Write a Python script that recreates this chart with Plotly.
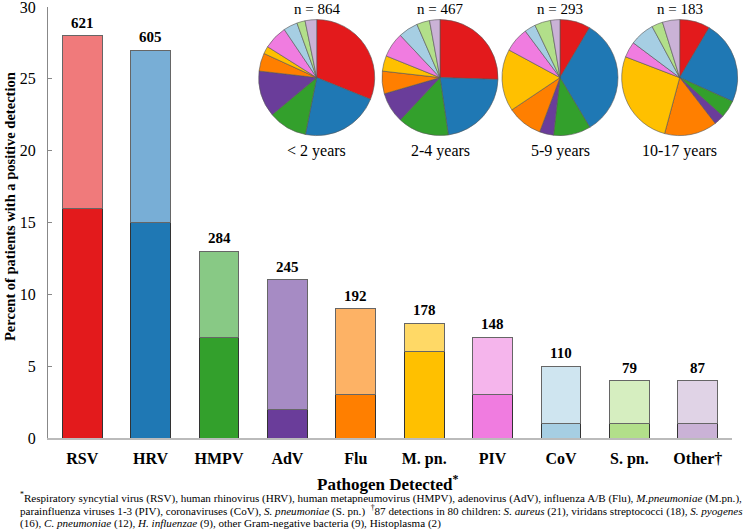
import plotly.graph_objects as go

categories = ["RSV", "HRV", "HMPV", "AdV", "Flu", "M. pn.", "PIV", "CoV", "S. pn.", "Other†"]
total_pct = [28, 27, 13, 11, 9, 8, 7, 5, 4, 4]
under2_pct = [16, 15, 7, 2, 3, 6, 3, 1, 1, 1]
counts = [621, 605, 284, 245, 192, 178, 148, 110, 79, 87]

dark_colors = ["#E31A1C", "#1F78B4", "#33A02C", "#6A3D9A", "#FF7F00",
               "#FFC000", "#F07CE0", "#A6CEE3", "#B2DF8A", "#CAB2D6"]
light_colors = ["#F07A7B", "#78AED6", "#88C985", "#A68BC4", "#FDB265",
                "#FFD966", "#F5B5EC", "#CFE5F0", "#D6EEC0", "#E0D3E6"]

age_groups = ["< 2 years", "2-4 years", "5-9 years", "10-17 years"]
age_n = [864, 467, 293, 183]
pie_under2 = [31.0, 21.9, 10.8, 12.8, 5.0, 2.1, 6.6, 3.9, 2.3, 3.2]
pie_2to4 = [25.5, 22.2, 14.3, 8.5, 6.3, 4.3, 6.9, 5.5, 3.6, 2.9]
pie_5to9 = [8.5, 32.9, 10.4, 3.9, 9.9, 17.3, 6.9, 3.1, 4.5, 2.6]
pie_10to17 = [8.5, 23.3, 4.9, 2.9, 14.7, 26.7, 4.4, 6.9, 3.1, 4.8]
pie_values = [pie_under2, pie_2to4, pie_5to9, pie_10to17]

W, H = 750, 532
FONT = "Liberation Serif, Times New Roman, serif"


def sx(x):
    return min(1.0, max(0.0, x / W))


def sy(y):
    return min(1.0, max(0.0, 1 - y / H))


fig = go.Figure()

upper = [t - d for t, d in zip(total_pct, under2_pct)]
fig.add_trace(go.Bar(x=categories, y=under2_pct, marker=dict(color=dark_colors, line=dict(color="#333333", width=1)),
                     width=0.58, showlegend=False, hoverinfo="x+y"))
fig.add_trace(go.Bar(x=categories, y=upper, marker=dict(color=light_colors, line=dict(color="#666666", width=1)),
                     width=0.58, showlegend=False, hoverinfo="x+y"))

# count labels above bars
for c, t, n in zip(categories, total_pct, counts):
    fig.add_annotation(x=c, y=t, text=f"<b>{n}</b>", showarrow=False, yanchor="bottom", yshift=3,
                       font=dict(family=FONT, size=15, color="black"))

# pies
centers_x = [316.7, 440, 560, 679.7]
cy = 77.6
r = 58
for i, (vals, cx) in enumerate(zip(pie_values, centers_x)):
    fig.add_trace(go.Pie(values=vals, labels=categories, sort=False, direction="clockwise",
                         marker=dict(colors=dark_colors, line=dict(color="#555555", width=0.6)),
                         textinfo="none", showlegend=False, hoverinfo="label+percent",
                         domain=dict(x=[sx(cx - r), sx(cx + r)], y=[sy(cy + r), sy(cy - r)])))
    fig.add_annotation(x=sx(cx), y=sy(9), xref="paper", yref="paper", text=f"n = {age_n[i]}",
                       xanchor="center", yanchor="middle",
                       showarrow=False, font=dict(family=FONT, size=15, color="black"))
    fig.add_annotation(x=sx(cx), y=sy(151), xref="paper", yref="paper", text=age_groups[i],
                       xanchor="center", yanchor="middle",
                       showarrow=False, font=dict(family=FONT, size=16, color="black"))

# y title
fig.add_annotation(x=sx(10), y=sy(207), xref="paper", yref="paper", textangle=-90,
                   xanchor="center", yanchor="middle",
                   text="<b>Percent of patients with a positive detection</b>", showarrow=False,
                   font=dict(family=FONT, size=14.5, color="black"))
# x title
fig.add_annotation(x=sx(388), y=sy(483), xref="paper", yref="paper",
                   xanchor="center", yanchor="middle",
                   text="<b>Pathogen Detected<sup>*</sup></b>", showarrow=False,
                   font=dict(family=FONT, size=17, color="black"))

foot = [
    "<sup>*</sup>Respiratory syncytial virus (RSV), human rhinovirus (HRV), human metapneumovirus (HMPV), adenovirus (AdV), influenza A/B (Flu), <i>M.pneumoniae</i> (M.pn.),",
    "parainfluenza viruses 1-3 (PIV), coronaviruses (CoV), <i>S. pneumoniae</i> (S. pn.)  <sup>†</sup>87 detections in 80 children: <i>S. aureus</i> (21), viridans streptococci (18), <i>S. pyogenes</i>",
    "(16), <i>C. pneumoniae</i> (12), <i>H. influenzae</i> (9), other Gram-negative bacteria (9), Histoplasma (2)",
]
for k, line in enumerate(foot):
    fig.add_annotation(x=sx(18), y=sy(497 + 13 * k), xref="paper", yref="paper",
                       xanchor="left", yanchor="middle",
                       text=line, showarrow=False, font=dict(family=FONT, size=11.1, color="black"))

fig.update_layout(
    width=W, height=H, margin=dict(l=0, r=0, t=0, b=0, autoexpand=False),
    paper_bgcolor="white", plot_bgcolor="white", barmode="stack", bargap=0.42,
    xaxis=dict(domain=[sx(48), sx(732)], range=[-0.5, 9.5], showline=True, linecolor="#BBBBBB",
               linewidth=1.5, ticks="", showgrid=False, zeroline=False, automargin=False,
               tickfont=dict(family=FONT, size=16, color="black"), ticklabelstandoff=5,
               tickprefix="<b>", ticksuffix="</b>"),
    yaxis=dict(domain=[sy(438), sy(7)], range=[0, 30], tickvals=[0, 5, 10, 15, 20, 25, 30],
               showline=True, linecolor="#888888", linewidth=1, ticks="inside", ticklen=4,
               tickcolor="#888888", showgrid=False, zeroline=False, automargin=False,
               tickfont=dict(family=FONT, size=16, color="black"), tickprefix="<b>", ticksuffix="</b>",
               ticklabelstandoff=8, ticklabeloverflow="allow"),
)

# remove the default 8px page margin so the 750x532 figure fills the window exactly
fig.write_html("out.html", config={"displayModeBar": False},
               post_script="document.body.style.margin='0';document.body.style.overflow='hidden';")
